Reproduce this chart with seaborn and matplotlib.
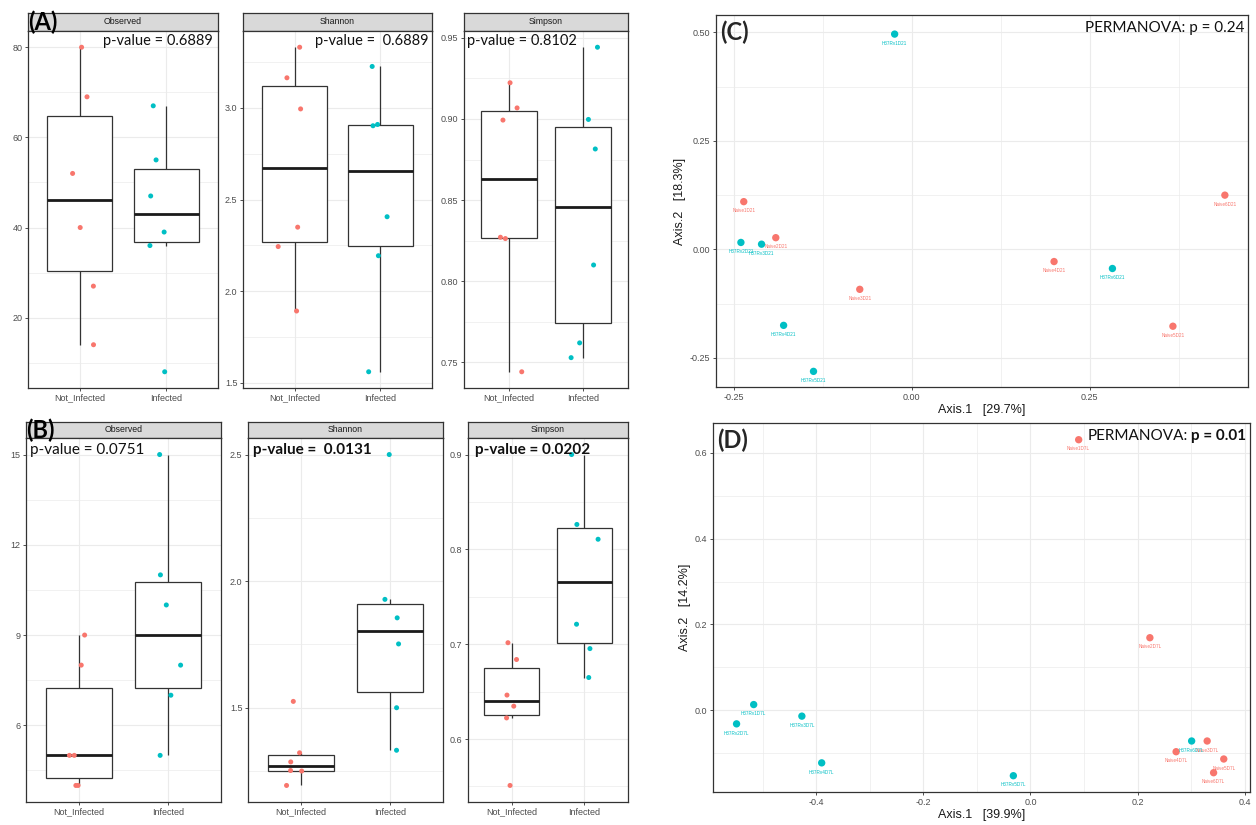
import numpy as np
import pandas as pd
import matplotlib
matplotlib.use("Agg")
import matplotlib.pyplot as plt
import seaborn as sns
from matplotlib.ticker import FixedLocator, MultipleLocator, FormatStrFormatter

# fixed seed so the strip-plot jitter is reproducible
np.random.seed(3)

# ---------------- data ----------------
groups = ["Not_Infected", "Infected"]
colors = {"Not_Infected": "#F8766D", "Infected": "#00BFC4"}

# (A) alpha diversity
a_observed_not = [80, 69, 52, 40, 27, 14]
a_observed_inf = [67, 55, 47, 39, 36, 8]
a_shannon_not = [3.332, 3.165, 2.995, 2.349, 2.243, 1.891]
a_shannon_inf = [3.227, 2.910, 2.903, 2.406, 2.193, 1.559]
a_simpson_not = [0.9223, 0.9068, 0.8993, 0.8271, 0.8263, 0.7442]
a_simpson_inf = [0.9442, 0.8997, 0.8815, 0.8100, 0.7620, 0.7529]
a_pvalues = ["0.6889", " 0.6889", "0.8102"]

# (B) alpha diversity
b_observed_not = [9, 8, 5, 5, 4, 4]
b_observed_inf = [15, 11, 10, 8, 7, 5]
b_shannon_not = [1.525, 1.322, 1.286, 1.252, 1.250, 1.193]
b_shannon_inf = [2.500, 1.928, 1.855, 1.752, 1.500, 1.332]
b_simpson_not = [0.7016, 0.6839, 0.6464, 0.6347, 0.6223, 0.5511]
b_simpson_inf = [0.9000, 0.8263, 0.8107, 0.7211, 0.6954, 0.6649]
b_pvalues = ["0.0751", " 0.0131", "0.0202"]

a_yticks = [[20, 40, 60, 80], [1.5, 2.0, 2.5, 3.0], [0.75, 0.80, 0.85, 0.90, 0.95]]
b_yticks = [[6, 9, 12, 15], [1.5, 2.0, 2.5], [0.6, 0.7, 0.8, 0.9]]
a_fmt = ["%d", "%.1f", "%.2f"]
b_fmt = ["%d", "%.1f", "%.1f"]
metrics = ["Observed", "Shannon", "Simpson"]

# (C) PCoA
c_names_not = ["Naive1D21", "Naive2D21", "Naive3D21", "Naive4D21", "Naive5D21", "Naive6D21"]
c_names_inf = ["H37Rv1D21", "H37Rv2D21", "H37Rv3D21", "H37Rv4D21", "H37Rv5D21", "H37Rv6D21"]
c_axis1_not = [-0.236, -0.191, -0.073, 0.200, 0.367, 0.440]
c_axis2_not = [0.110, 0.027, -0.092, -0.028, -0.177, 0.125]
c_axis1_inf = [-0.024, -0.240, -0.211, -0.180, -0.138, 0.282]
c_axis2_inf = [0.496, 0.016, 0.012, -0.175, -0.281, -0.044]

# (D) PCoA
d_names_not = ["Naive1D7L", "Naive2D7L", "Naive3D7L", "Naive4D7L", "Naive5D7L", "Naive6D7L"]
d_names_inf = ["H37Rv1D7L", "H37Rv2D7L", "H37Rv3D7L", "H37Rv4D7L", "H37Rv5D7L", "H37Rv6D7L"]
d_axis1_not = [0.090, 0.223, 0.330, 0.272, 0.361, 0.342]
d_axis2_not = [0.631, 0.169, -0.072, -0.097, -0.114, -0.146]
d_axis1_inf = [-0.517, -0.549, -0.427, -0.390, -0.032, 0.301]
d_axis2_inf = [0.013, -0.032, -0.014, -0.123, -0.153, -0.072]

# ---------------- styling ----------------
sns.set_theme(style="white")
plt.rcParams["font.family"] = ["Liberation Sans", "DejaVu Sans"]
plt.rcParams["axes.unicode_minus"] = False

W, H = 1256, 825
fig = plt.figure(figsize=(W / 100, H / 100), dpi=100)
fig.patch.set_facecolor("white")

BORDER = "#333333"
GRID = "#EBEBEB"
TICKLAB = "#4D4D4D"
LABEL_FONT = ["Lato", "DejaVu Sans"]


def px_axes(x0, y0, x1, y1):
    return fig.add_axes([x0 / W, 1 - y1 / H, (x1 - x0) / W, (y1 - y0) / H])


def frame(ax):
    for s in ax.spines.values():
        s.set_color(BORDER)
        s.set_linewidth(0.9)
        s.set_visible(True)
    ax.tick_params(axis="both", which="major", length=2.5, width=0.6, color=BORDER,
                   labelsize=6.5, labelcolor=TICKLAB, pad=1.5, direction="out")
    ax.tick_params(axis="both", which="minor", length=0)
    ax.tick_params(bottom=True, left=True)


def box_panel(x0, x1, strip_top, strip_bot, plot_bot, title, vals_not, vals_inf, yticks, fmt):
    strip = px_axes(x0, strip_top, x1, strip_bot)
    strip.set_facecolor("#D9D9D9")
    strip.set_xticks([])
    strip.set_yticks([])
    for s in strip.spines.values():
        s.set_color(BORDER)
        s.set_linewidth(0.9)
    strip.text(0.5, 0.5, title, ha="center", va="center", fontsize=6.3, color="#1A1A1A",
               transform=strip.transAxes)

    ax = px_axes(x0, strip_bot, x1, plot_bot)
    df = pd.DataFrame({
        "group": [groups[0]] * len(vals_not) + [groups[1]] * len(vals_inf),
        "value": list(vals_not) + list(vals_inf),
    })
    sns.boxplot(data=df, x="group", y="value", order=groups, color="white",
                linecolor=BORDER, linewidth=0.9, width=0.75, showfliers=False,
                showcaps=False, medianprops={"linewidth": 2.0, "color": "#1A1A1A"},
                ax=ax, zorder=2)
    sns.stripplot(data=df, x="group", y="value", order=groups, hue="group",
                  palette=colors, jitter=0.2, size=3.6, linewidth=0, legend=False,
                  ax=ax, zorder=3)
    lo, hi = min(df["value"]), max(df["value"])
    pad = 0.05 * (hi - lo)
    ax.set_ylim(lo - pad, hi + pad)
    ax.set_xlim(-0.6, 1.6)
    ax.yaxis.set_major_locator(FixedLocator(yticks))
    ax.yaxis.set_major_formatter(FormatStrFormatter(fmt))
    step = yticks[1] - yticks[0]
    minor = [t - step / 2 for t in yticks] + [yticks[-1] + step / 2]
    ax.yaxis.set_minor_locator(FixedLocator(minor))
    ax.grid(True, which="major", color=GRID, linewidth=0.8)
    ax.grid(True, which="minor", axis="y", color=GRID, linewidth=0.5)
    ax.set_axisbelow(True)
    ax.set_xlabel("")
    ax.set_ylabel("")
    frame(ax)
    return ax


# ---- (A) row ----
a_vals = [(a_observed_not, a_observed_inf), (a_shannon_not, a_shannon_inf),
          (a_simpson_not, a_simpson_inf)]
a_x = [(28, 218), (243, 432), (464, 628)]
a_ptext = [103, 315, 467]
for i in range(3):
    box_panel(a_x[i][0], a_x[i][1], 13, 31, 388, metrics[i], a_vals[i][0], a_vals[i][1],
              a_yticks[i], a_fmt[i])
    fig.text(a_ptext[i] / W, 1 - 41 / H, "p-value = " + a_pvalues[i], ha="left", va="center",
             fontsize=10.5, family=LABEL_FONT, color="#111111")

# ---- (B) row ----
b_vals = [(b_observed_not, b_observed_inf), (b_shannon_not, b_shannon_inf),
          (b_simpson_not, b_simpson_inf)]
b_x = [(26, 221), (248, 443), (468, 628)]
b_ptext = [30, 253, 475]
b_weight = ["normal", "bold", "bold"]
for i in range(3):
    box_panel(b_x[i][0], b_x[i][1], 422, 438, 802, metrics[i], b_vals[i][0], b_vals[i][1],
              b_yticks[i], b_fmt[i])
    fig.text(b_ptext[i] / W, 1 - 450 / H, "p-value = " + b_pvalues[i], ha="left", va="center",
             fontsize=11, family=LABEL_FONT, weight=b_weight[i], color="#111111")

fig.text(28 / W, 1 - 22 / H, "(A)", ha="left", va="center", fontsize=17, weight="bold",
         family=LABEL_FONT, color="black")
fig.text(26 / W, 1 - 430 / H, "(B)", ha="left", va="center", fontsize=17, weight="bold",
         family=LABEL_FONT, color="black")


# ---- PCoA panels ----
def pcoa_panel(box, x_not, y_not, x_inf, y_inf, names_not, names_inf, xlim, ylim,
               xmaj, ymaj, fmt, xlabel, ylabel):
    ax = px_axes(*box)
    df = pd.DataFrame({
        "Axis.1": list(x_not) + list(x_inf),
        "Axis.2": list(y_not) + list(y_inf),
        "group": [groups[0]] * len(x_not) + [groups[1]] * len(x_inf),
        "name": list(names_not) + list(names_inf),
    })
    sns.scatterplot(data=df, x="Axis.1", y="Axis.2", hue="group", palette=colors,
                    s=28, linewidth=0, legend=False, ax=ax, zorder=3)
    ylab_off = 0.025 * (ylim[1] - ylim[0])
    for _, r in df.iterrows():
        ax.text(r["Axis.1"], r["Axis.2"] - ylab_off, r["name"], ha="center", va="center",
                fontsize=3.3, color=colors[r["group"]], zorder=4)
    ax.set_xlim(*xlim)
    ax.set_ylim(*ylim)
    ax.xaxis.set_major_locator(MultipleLocator(xmaj))
    ax.xaxis.set_minor_locator(MultipleLocator(xmaj / 2))
    ax.yaxis.set_major_locator(MultipleLocator(ymaj))
    ax.yaxis.set_minor_locator(MultipleLocator(ymaj / 2))
    ax.xaxis.set_major_formatter(FormatStrFormatter(fmt))
    ax.yaxis.set_major_formatter(FormatStrFormatter(fmt))
    ax.grid(True, which="major", color=GRID, linewidth=0.8)
    ax.grid(True, which="minor", color=GRID, linewidth=0.5)
    ax.set_axisbelow(True)
    ax.set_xlabel(xlabel, fontsize=9, color="#1A1A1A", labelpad=2)
    ax.set_ylabel(ylabel, fontsize=9, color="#1A1A1A", labelpad=3)
    frame(ax)
    return ax


axc = pcoa_panel((716, 15, 1248, 387), c_axis1_not, c_axis2_not, c_axis1_inf, c_axis2_inf,
                 c_names_not, c_names_inf, (-0.275, 0.4725), (-0.317, 0.54), 0.25, 0.25,
                 "%.2f", "Axis.1   [29.7%]", "Axis.2   [18.3%]")
axc.text(0.008, 0.985, "(C)", transform=axc.transAxes, ha="left", va="top", fontsize=17,
         weight="bold", family=LABEL_FONT)
axc.text(0.993, 0.985, "PERMANOVA: p = 0.24", transform=axc.transAxes, ha="right", va="top",
         fontsize=11, family=LABEL_FONT, color="#111111")

axd = pcoa_panel((713, 423, 1250, 792), d_axis1_not, d_axis2_not, d_axis1_inf, d_axis2_inf,
                 d_names_not, d_names_inf, (-0.593, 0.41), (-0.191, 0.67), 0.2, 0.2,
                 "%.1f", "Axis.1   [39.9%]", "Axis.2   [14.2%]")
axd.text(0.008, 0.985, "(D)", transform=axd.transAxes, ha="left", va="top", fontsize=17,
         weight="bold", family=LABEL_FONT)
t1 = axd.text(0.993, 0.985, "p = 0.01", transform=axd.transAxes, ha="right", va="top",
              fontsize=11, family=LABEL_FONT, weight="bold", color="#111111")
fig.canvas.draw()
bb = t1.get_window_extent()
x_left = axd.transAxes.inverted().transform((bb.x0, bb.y1))[0]
axd.text(x_left - 0.006, 0.985, "PERMANOVA:", transform=axd.transAxes, ha="right", va="top",
         fontsize=11, family=LABEL_FONT, color="#111111")

fig.savefig("out.png", dpi=100, facecolor="white")
